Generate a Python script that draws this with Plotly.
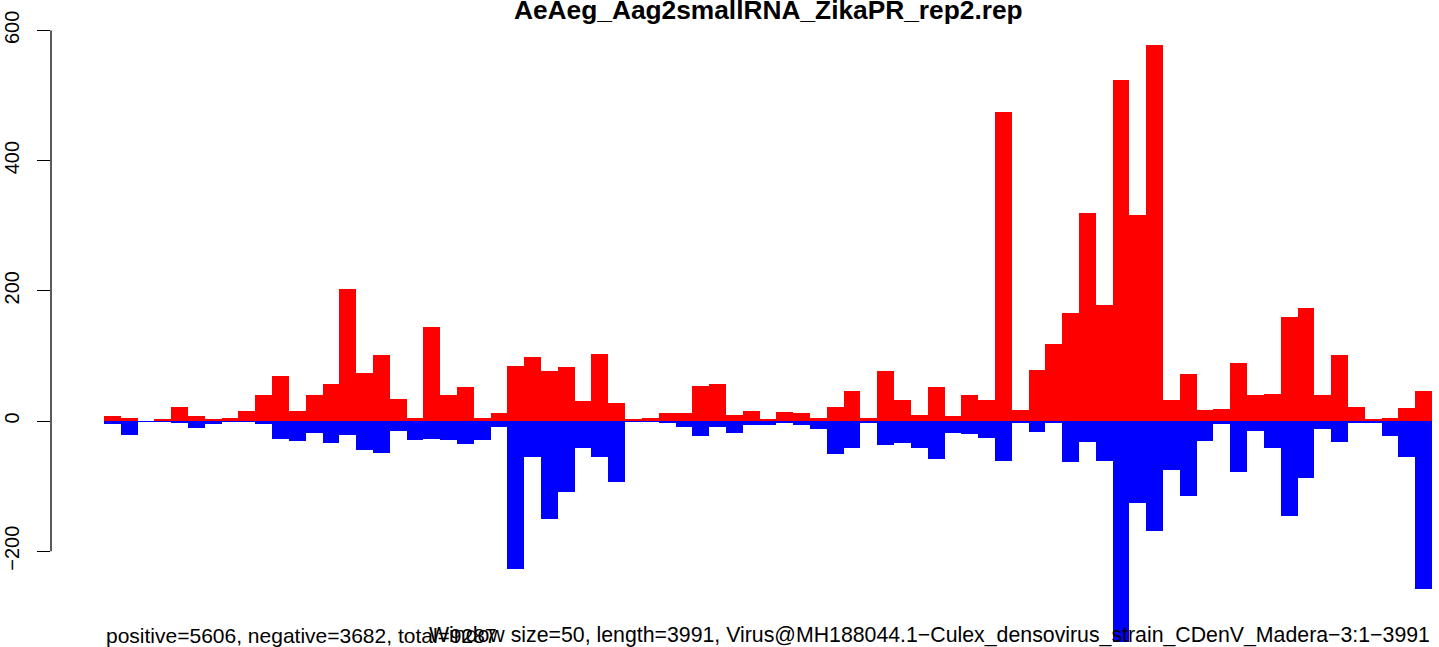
import plotly.graph_objects as go

title_text = "AeAeg_Aag2smallRNA_ZikaPR_rep2.rep"
left_note = "positive=5606, negative=3682, total=9287"
right_note = "Window size=50, length=3991, Virus@MH188044.1\u2212Culex_densovirus_strain_CDenV_Madera\u22123:1\u22123991"

window = 50
# window start positions (nt)
starts = list(range(0, 3950, window))

positive = [8, 5, 0, 2, 21, 8, 2, 5, 15, 40, 69, 15, 40, 57, 203, 74,
            101, 34, 5, 144, 40, 52, 5, 12, 85, 98, 77, 83, 31, 103, 28, 3,
            5, 12, 12, 54, 57, 9, 15, 2, 14, 12, 5, 21, 46, 5, 77, 32,
            9, 52, 8, 40, 32, 475, 17, 78, 118, 166, 320, 178, 524, 316, 578, 32,
            72, 17, 18, 89, 40, 42, 160, 174, 40, 101, 21, 2, 5, 20, 46]

negative = [-4, -21, -1, -1, -3, -11, -4, -1, -1, -4, -28, -31, -18, -34, -21, -44,
            -49, -15, -29, -28, -29, -35, -29, -9, -227, -55, -150, -109, -41, -55, -94, -1,
            -1, -2, -9, -23, -9, -18, -6, -6, -3, -6, -12, -51, -41, -2, -37, -34,
            -41, -58, -18, -20, -26, -61, -3, -17, -3, -63, -32, -61, -340, -126, -169, -75,
            -115, -31, -5, -78, -15, -41, -146, -88, -12, -32, -3, -3, -23, -55, -258]

tick_vals = [-200, 0, 200, 400, 600]
tick_text = ["\u2212200", "0", "200", "400", "600"]

FONT = "Liberation Sans, Arial, Helvetica, sans-serif"

W, H = 1439, 647
ml, mr, mt, mb = 51, 0, 0, 5
# layout scale (pixels per unit) chosen to match the reference
px_per_nt = 1328 / 3950
px_per_count = 0.651
zero_px = 421
first_px = 104

x_lo = -(first_px - ml) / px_per_nt
x_hi = x_lo + (W - ml - mr) / px_per_nt
y_hi = (zero_px - mt) / px_per_count
y_lo = -((H - mb) - zero_px) / px_per_count

centers = [s + window / 2 for s in starts]

fig = go.Figure()
fig.add_trace(go.Bar(x=centers, y=positive, width=window, marker=dict(color="#FF0000", line=dict(width=0)),
                     showlegend=False, hoverinfo="skip"))
fig.add_trace(go.Bar(x=centers, y=negative, width=window, marker=dict(color="#0000FF", line=dict(width=0)),
                     showlegend=False, hoverinfo="skip"))

fig.update_layout(
    width=W, height=H,
    margin=dict(l=ml, r=mr, t=mt, b=mb, pad=0),
    paper_bgcolor="white", plot_bgcolor="white",
    barmode="relative", bargap=0,
    font=dict(family=FONT, color="black", size=20),
    xaxis=dict(range=[x_lo, x_hi], visible=False, showgrid=False, zeroline=False),
    yaxis=dict(range=[y_lo, y_hi], tickvals=tick_vals, ticktext=tick_text, tickangle=-90,
               ticks="outside", ticklen=13, tickwidth=1.3, tickcolor="black",
               showgrid=False, zeroline=False, showline=False,
               tickfont=dict(family=FONT, size=20, color="black"), ticklabelstandoff=10),
    shapes=[dict(type="line", xref="paper", yref="y", x0=0, x1=0,
                 y0=min(tick_vals), y1=max(tick_vals), line=dict(color="black", width=1.3))],
    annotations=[
        dict(text="<b>" + title_text + "</b>", xref="paper", yref="paper",
             x=(768 - ml) / (W - ml - mr), y=1 - (10 - mt) / (H - mt - mb),
             xanchor="center", yanchor="middle", showarrow=False,
             font=dict(family=FONT, size=26.3, color="black")),
        dict(text=left_note, xref="x", yref="paper", x=starts[0], y=(H - mb - 635) / (H - mt - mb),
             xanchor="left", yanchor="middle", showarrow=False,
             font=dict(family=FONT, size=21, color="black")),
        dict(text=right_note, xref="x", yref="paper", x=starts[-1] + window, y=(H - mb - 635) / (H - mt - mb),
             xanchor="right", yanchor="middle", showarrow=False,
             font=dict(family=FONT, size=21.3, color="black")),
    ],
)

fig.write_html("out.html", config={"displayModeBar": False},
               post_script="document.body.style.margin='0';")
